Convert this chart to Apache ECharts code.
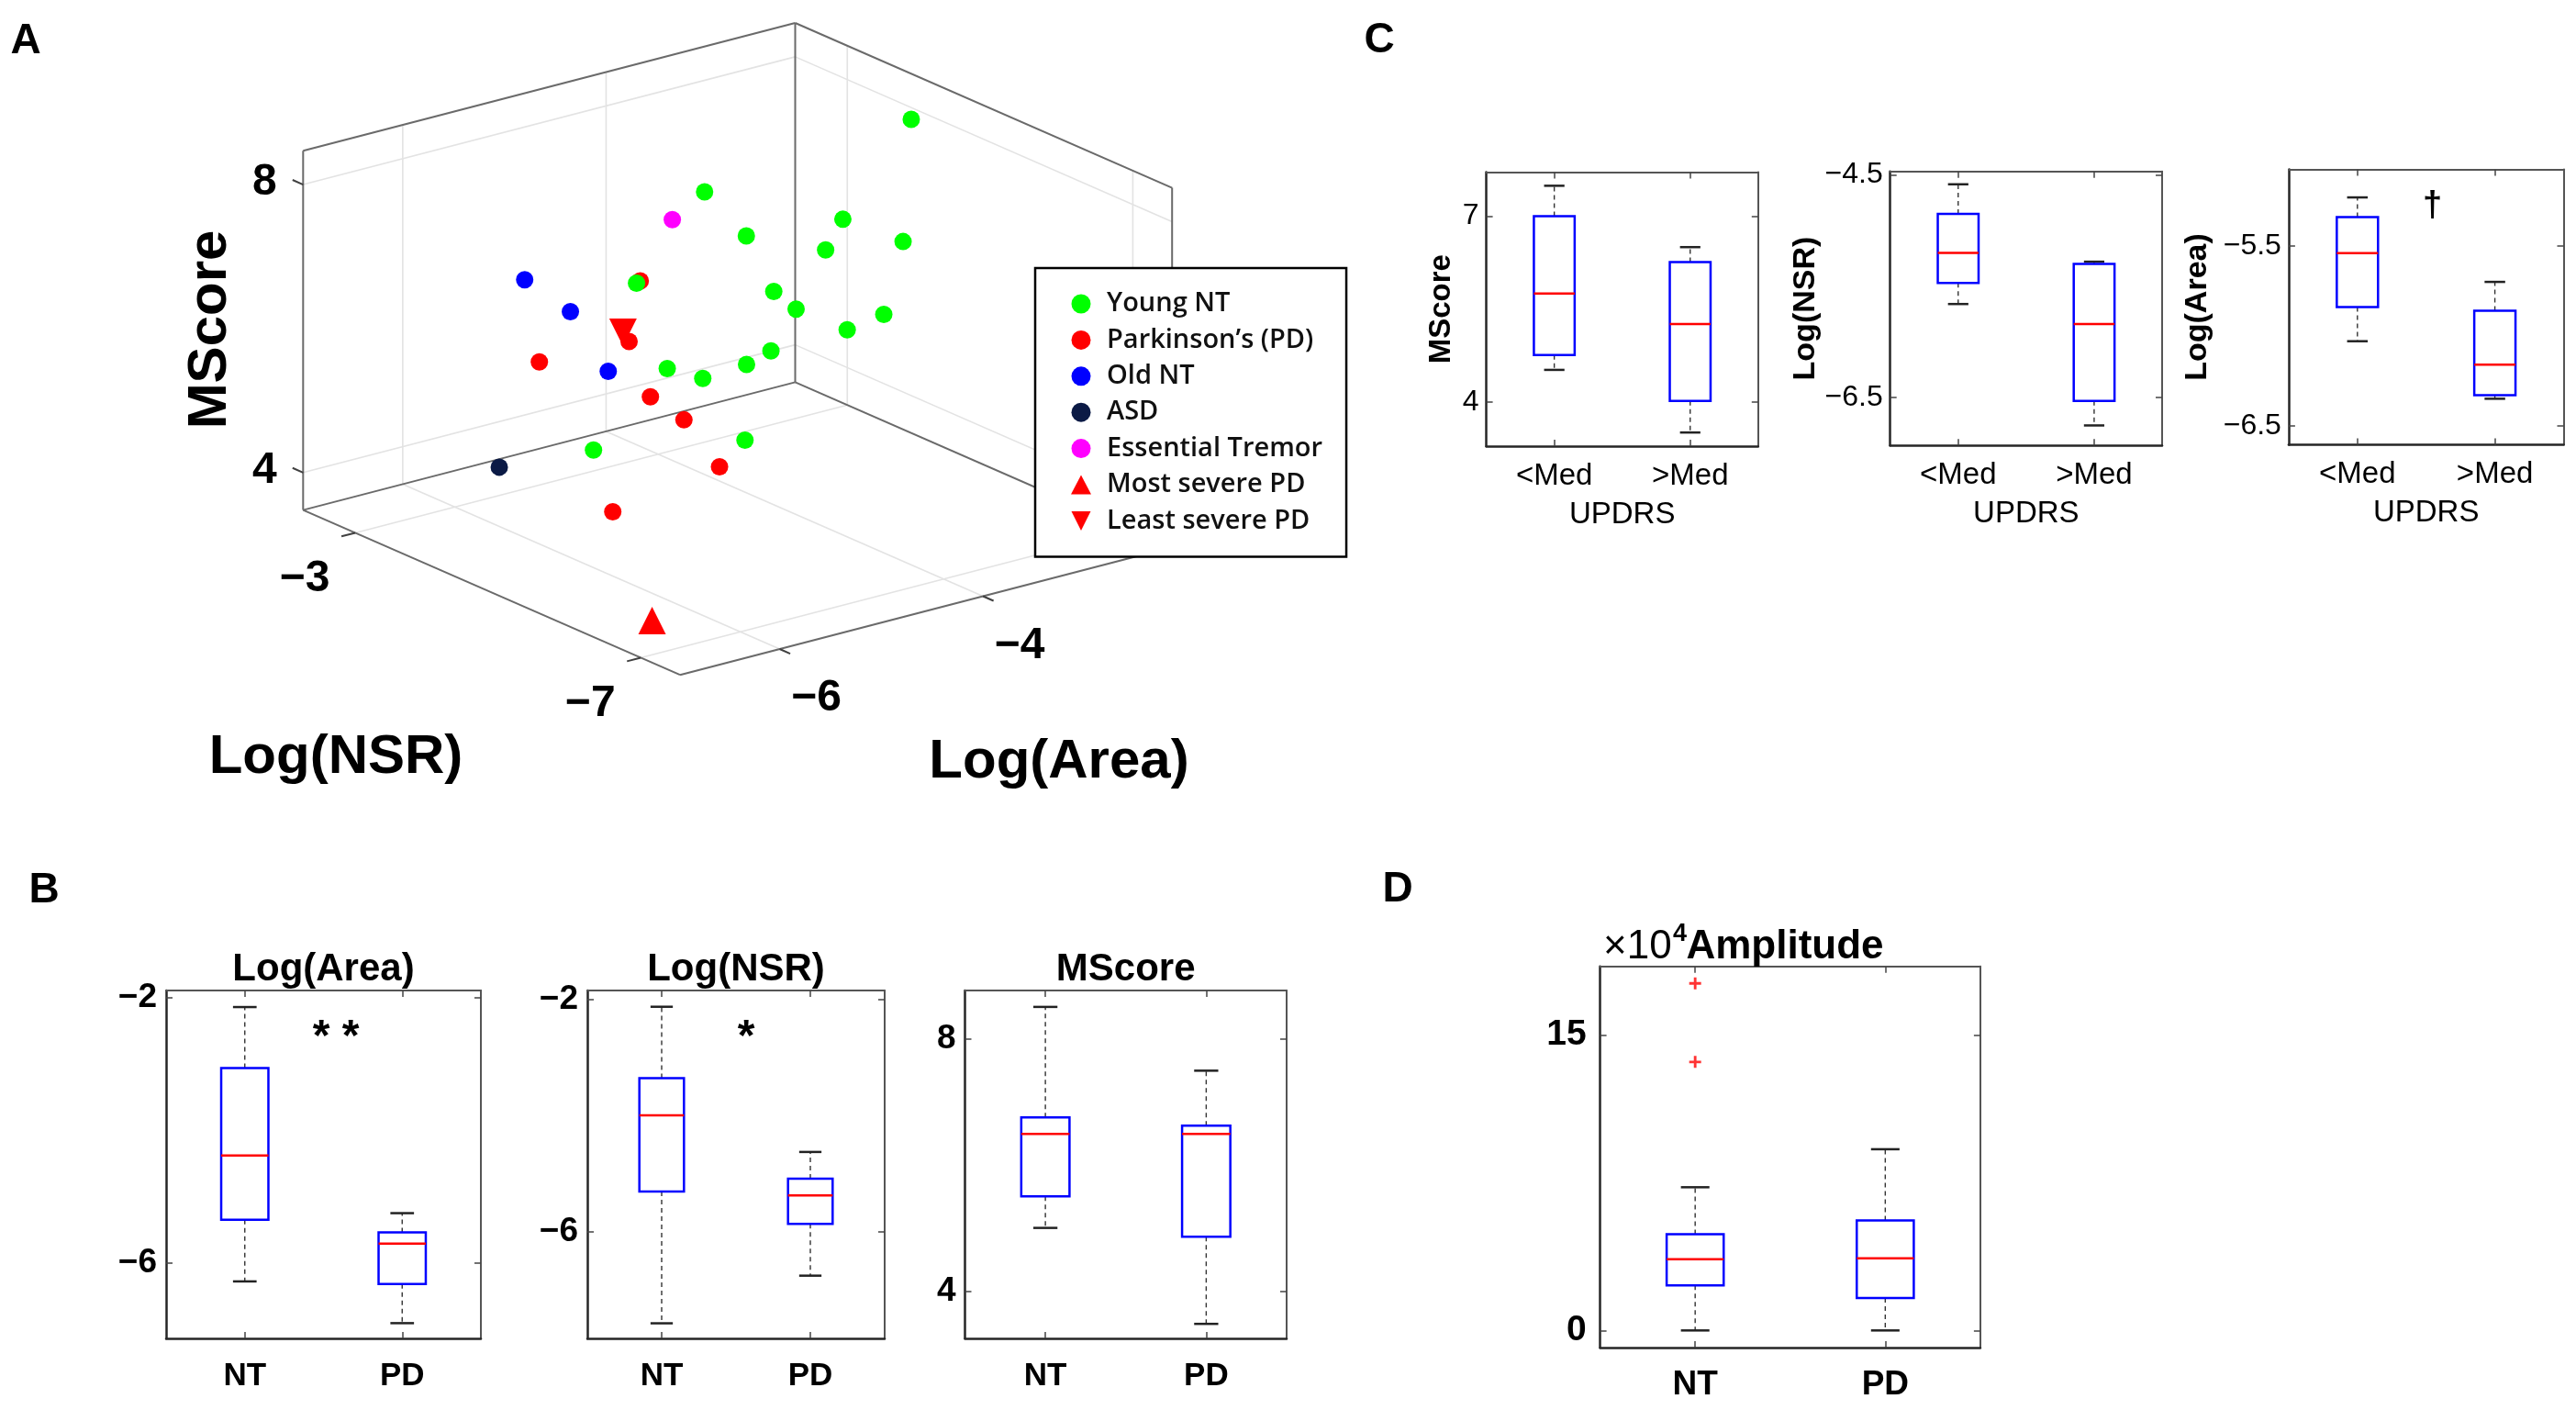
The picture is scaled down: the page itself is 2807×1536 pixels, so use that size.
<!DOCTYPE html>
<html>
<head>
<meta charset="utf-8">
<script src="https://cdn.jsdelivr.net/npm/echarts@6/dist/echarts.min.js"></script>
<style>
html,body{margin:0;padding:0;background:#fff;}
#chart{width:2807px;height:1536px;}
</style>
</head>
<body>
<div id="chart"></div>
<script>
// ================= DATA =================
// Panel A points: [Log(Area), Log(NSR), MScore]
const youngNT = [
  [-2.48,-4.38,8.17],[-4.33,-4.12,7.73],[-2.97,-4.12,6.85],[-3.73,-3.85,6.78],
  [-2.75,-4.65,6.69],[-2.95,-3.85,6.30],[-4.81,-3.85,6.52],[-3.46,-3.85,5.91],
  [-3.43,-4.12,5.77],[-2.75,-4.38,5.56],[-3.11,-4.38,5.48],[-3.86,-4.38,5.46],
  [-4.10,-4.38,5.36],[-4.88,-4.38,5.59],[-4.72,-4.65,5.51],[-4.67,-5.17,4.86],
  [-6.16,-5.17,5.27]
];
const parkinsonPD = [
  [-5.70,-5.17,7.45],[-5.81,-5.17,6.65],[-6.51,-4.91,6.51],[-5.79,-5.44,5.99],
  [-5.46,-5.44,5.55],[-5.11,-5.44,4.77],[-6.16,-5.44,4.53]
];
const oldNT = [[-5.91,-3.85,6.97],[-5.65,-4.12,6.55],[-5.65,-4.65,5.95]];
const asd = [[-6.16,-3.85,4.46]];
const essentialTremor = [[-4.83,-4.38,7.64]];
const mostSeverePD = [[-6.70,-6.76,3.79]];
const leastSeverePD = [[-5.87,-5.17,6.80]];
const aAreaTicks = [-6, -4];
const aNsrTicks = [-3, -7];
const aMsTicks = [4, 8];
const legendNames = ['Young NT','Parkinson\u2019s (PD)','Old NT','ASD','Essential Tremor','Most severe PD','Least severe PD'];

// Box statistics: [lower whisker, Q1, median, Q3, upper whisker]
const groupCats = ['NT', 'PD'];
const bAreaStats = [[-6.28,-5.35,-4.38,-3.06,-2.14], [-6.91,-6.32,-5.71,-5.54,-5.25]];
const bNsrStats  = [[-7.57,-5.30,-3.99,-3.35,-2.12], [-6.75,-5.86,-5.37,-5.08,-4.62]];
const bMsStats   = [[5.01,5.51,6.50,6.76,8.51], [3.49,4.87,6.50,6.63,7.50]];
const bAreaTicks = [-6, -2];
const bNsrTicks = [-6, -2];
const bMsTicks = [4, 8];

const updrsCats = ['<Med', '>Med'];
const cMsStats   = [[4.52,4.76,5.75,7.00,7.49], [3.51,4.02,5.26,6.26,6.50]];
const cNsrStats  = [[-5.66,-5.47,-5.20,-4.85,-4.585], [-6.75,-6.53,-5.84,-5.30,-5.28]];
const cAreaStats = [[-6.03,-5.84,-5.54,-5.34,-5.23], [-6.35,-6.33,-6.16,-5.86,-5.70]];
const cMsTicks = [4, 7];
const cNsrTicks = [-6.5, -4.5];
const cAreaTicks = [-6.5, -5.5];

// Amplitude (x10^4)
const ampStats = [[0,2.29,3.61,4.89,7.27], [0,1.65,3.66,5.58,9.20]];
const ampOutliersNT = [17.62, 13.63];
const ampTicks = [0, 15];

// ================= LAYOUT / STYLE =================
const FONT = "'Liberation Sans', Arial, Helvetica, sans-serif";
const LFONT = "'Open Sans', 'Noto Sans', sans-serif";
const minus = v => String(v).replace('-', '\u2212');

const A_BOX = {
  origin: [330.3, 555.6],
  areaVec: [536.2, -139.2],
  nsrVec: [410.7, 179.6],
  msVec: [0, -391.4],
  area: [-6.98, -2.14],
  nsr: [-2.27, -7.55],
  ms: [3.48, 8.47]
};
function project(a, n, m) {
  const b = A_BOX;
  const ua = (a - b.area[0]) / (b.area[1] - b.area[0]);
  const un = (n - b.nsr[0]) / (b.nsr[1] - b.nsr[0]);
  const um = (m - b.ms[0]) / (b.ms[1] - b.ms[0]);
  return [
    b.origin[0] + ua * b.areaVec[0] + un * b.nsrVec[0] + um * b.msVec[0],
    b.origin[1] + ua * b.areaVec[1] + un * b.nsrVec[1] + um * b.msVec[1]
  ];
}

function cubeSegments() {
  const b = A_BOX;
  const [a0, a1] = b.area, [n0, n1] = b.nsr, [m0, m1] = b.ms;
  const segs = [];
  const seg = (p, q, kind) => segs.push([...project(...p), ...project(...q), kind]);
  aMsTicks.forEach(m => { seg([a0,n0,m],[a1,n0,m],0); seg([a1,n0,m],[a1,n1,m],0); });
  aAreaTicks.forEach(a => { seg([a,n0,m0],[a,n0,m1],0); seg([a,n0,m0],[a,n1,m0],0); });
  aNsrTicks.forEach(n => { seg([a1,n,m0],[a1,n,m1],0); seg([a0,n,m0],[a1,n,m0],0); });
  seg([a0,n0,m0],[a0,n0,m1],1);
  seg([a1,n0,m0],[a1,n0,m1],1);
  seg([a1,n1,m0],[a1,n1,m1],1);
  seg([a0,n0,m0],[a1,n0,m0],1);
  seg([a1,n0,m0],[a1,n1,m0],1);
  seg([a0,n0,m0],[a0,n1,m0],1);
  seg([a0,n1,m0],[a1,n1,m0],1);
  seg([a0,n0,m1],[a1,n0,m1],1);
  seg([a1,n0,m1],[a1,n1,m1],1);
  const k = 0.028;
  aMsTicks.forEach(m => seg([a0,n0,m],[a0,n0 - k*(n1-n0),m],2));
  aNsrTicks.forEach(n => seg([a0,n,m0],[a0 - k*(a1-a0),n,m0],2));
  aAreaTicks.forEach(a => seg([a,n1,m0],[a,n1 + k*(n1-n0),m0],2));
  return segs;
}

function segRender(params, api) {
  const p = api.coord([api.value(0), api.value(1)]);
  const q = api.coord([api.value(2), api.value(3)]);
  const kind = api.value(4);
  const style = kind === 0 ? {stroke:'#e3e3e3', lineWidth:1.6}
              : kind === 1 ? {stroke:'#6a6a6a', lineWidth:2}
              : {stroke:'#404040', lineWidth:2};
  return {type:'line', shape:{x1:p[0], y1:p[1], x2:q[0], y2:q[1]}, style};
}

function boxRender(params, api) {
  const cat = api.value(0);
  const pts = [1,2,3,4,5].map(d => api.coord([cat, api.value(d)]));
  const band = api.size([1, 0])[0];
  const bw = band * 0.3, cw = bw * 0.5;
  const x = pts[2][0];
  const [yLo, yQ1, yMd, yQ3, yHi] = pts.map(p => p[1]);
  const dash = {stroke:'#333', lineWidth:1.4, lineDash:[5,4]};
  const cap = {stroke:'#222', lineWidth:2.5};
  return {type:'group', children:[
    {type:'line', shape:{x1:x, y1:yQ3, x2:x, y2:yHi}, style:dash},
    {type:'line', shape:{x1:x, y1:yQ1, x2:x, y2:yLo}, style:dash},
    {type:'line', shape:{x1:x-cw/2, y1:yHi, x2:x+cw/2, y2:yHi}, style:cap},
    {type:'line', shape:{x1:x-cw/2, y1:yLo, x2:x+cw/2, y2:yLo}, style:cap},
    {type:'rect', shape:{x:x-bw/2, y:yQ3, width:bw, height:yQ1-yQ3}, style:{fill:'none', stroke:'#0000ff', lineWidth:2.5}},
    {type:'line', shape:{x1:x-bw/2, y1:yMd, x2:x+bw/2, y2:yMd}, style:{stroke:'#ff0000', lineWidth:2.5}}
  ]};
}

const option = {
  animation: false,
  backgroundColor: '#ffffff',
  textStyle: {fontFamily: FONT},
  grid: [], xAxis: [], yAxis: [], series: [], graphic: []
};

// ---------- Panel A (projected 3D) ----------
option.grid.push({left:0, top:0, width:2807, height:1536, containLabel:false, outerBoundsMode:'none', show:false});
option.xAxis.push({gridIndex:0, type:'value', min:0, max:2807, show:false});
option.yAxis.push({gridIndex:0, type:'value', min:0, max:1536, inverse:true, show:false});
option.series.push({type:'custom', name:'cube', xAxisIndex:0, yAxisIndex:0, data:cubeSegments(), renderItem:segRender, silent:true, z:1});

function scatter3D(name, pts, color, symbol, size) {
  option.series.push({
    type:'scatter', name, xAxisIndex:0, yAxisIndex:0,
    data: pts.map(p => project(p[0], p[1], p[2])),
    symbol, symbolSize:size,
    itemStyle:{color, borderWidth:0, opacity:1}, silent:true, z:2
  });
}
scatter3D(legendNames[1], parkinsonPD, '#ff0000', 'circle', 19);
scatter3D(legendNames[2], oldNT, '#0000ff', 'circle', 19);
scatter3D(legendNames[3], asd, '#0b1a45', 'circle', 19);
scatter3D(legendNames[4], essentialTremor, '#ff00ff', 'circle', 19);
scatter3D(legendNames[0], youngNT, '#00ff00', 'circle', 19);
scatter3D(legendNames[5], mostSeverePD, '#ff0000', 'triangle', 30);
scatter3D(legendNames[6], leastSeverePD, '#ff0000', 'path://M0,0L10,0L5,10Z', 30);

option.legend = {
  data: legendNames, orient:'vertical', left:1128, top:292, align:'left',
  selectedMode:false, itemWidth:22, itemHeight:21, itemGap:9.4,
  backgroundColor:'#fff', borderColor:'#000', borderWidth:2.5, borderRadius:0,
  padding:[24, 26, 24, 39],
  itemStyle:{borderWidth:0},
  textStyle:{fontFamily:LFONT, fontSize:29, fontWeight:600, color:'#111', lineHeight:30, padding:[0,0,0,12]}
};

const txt = (text, x, y, size, weight, align, extra) => Object.assign({
  type:'text', x, y, silent:true, z:10,
  style:{text, fill:'#000', font: (weight||'normal') + ' ' + size + 'px ' + FONT,
         textAlign: align||'center', textVerticalAlign:'middle', align: align||'center', verticalAlign:'middle'}
}, extra || {});

// Panel A tick labels and axis names
aMsTicks.forEach(m => { const p = project(A_BOX.area[0], A_BOX.nsr[0], m); option.graphic.push(txt(minus(m), p[0]-42, p[1]-2, 48, 'bold')); });
aNsrTicks.forEach(n => { const p = project(A_BOX.area[0], n, A_BOX.ms[0]); option.graphic.push(txt(minus(n), p[0]-55, p[1]+50, 48, 'bold')); });
aAreaTicks.forEach(a => { const p = project(a, A_BOX.nsr[1], A_BOX.ms[0]); option.graphic.push(txt(minus(a), p[0]+40, p[1]+54, 48, 'bold')); });
option.graphic.push(txt('MScore', 229, 359, 60, 'bold', 'center', {rotation: Math.PI/2}));
option.graphic.push(txt('Log(NSR)', 366, 825, 60, 'bold'));
option.graphic.push(txt('Log(Area)', 1154, 830, 60, 'bold'));

// Panel letters
option.graphic.push(txt('A', 28, 45, 46, 'bold'));
option.graphic.push(txt('B', 48, 970, 46, 'bold'));
option.graphic.push(txt('C', 1503, 44, 46, 'bold'));
option.graphic.push(txt('D', 1523, 969, 46, 'bold'));

// ---------- Box plot panels ----------
function addBoxPanel(p) {
  const gi = option.grid.length;
  option.grid.push({left:p.rect[0], top:p.rect[1], width:p.rect[2], height:p.rect[3], containLabel:false, outerBoundsMode:'none', show:false});
  const xi = option.xAxis.length;
  const tickStyle = {color:'#444', width:1.5};
  option.xAxis.push({
    gridIndex:gi, type:'category', data:p.cats, position:'bottom', boundaryGap:true,
    axisLine:{show:true, onZero:false, lineStyle:{color:'#262626', width:2.5}},
    axisTick:{show:true, inside:true, alignWithLabel:true, length:7, lineStyle:tickStyle},
    axisLabel:{show:true, margin:p.xMargin, color:'#000', fontFamily:FONT, fontSize:p.xFont, fontWeight:p.xWeight},
    name:p.xName || '', nameLocation:'middle', nameGap:p.xNameGap || 0,
    nameTextStyle:{color:'#000', fontFamily:FONT, fontSize:33, fontWeight:'normal'},
    splitLine:{show:false}
  });
  option.xAxis.push({
    gridIndex:gi, type:'category', data:p.cats, position:'top', boundaryGap:true,
    axisLine:{show:true, onZero:false, lineStyle:{color:'#555', width:2}},
    axisTick:{show:true, inside:true, alignWithLabel:true, length:7, lineStyle:tickStyle},
    axisLabel:{show:false}, splitLine:{show:false}
  });
  const yi = option.yAxis.length;
  option.yAxis.push({
    gridIndex:gi, type:'value', min:p.range[0], max:p.range[1], position:'left',
    axisLine:{show:true, onZero:false, lineStyle:{color:'#262626', width:2.5}},
    axisTick:{show:true, inside:true, length:7, customValues:p.ticks, lineStyle:tickStyle},
    axisLabel:{show:true, customValues:p.ticks, formatter:minus, margin:p.yMargin, color:'#000', fontFamily:FONT, fontSize:p.yFont, fontWeight:p.yWeight},
    name:p.yName || '', nameLocation:'middle', nameGap:p.yNameGap || 0, nameRotate:90,
    nameTextStyle:{color:'#000', fontFamily:FONT, fontSize:p.yNameFont || 32, fontWeight:'bold'},
    splitLine:{show:false}
  });
  option.yAxis.push({
    gridIndex:gi, type:'value', min:p.range[0], max:p.range[1], position:'right',
    axisLine:{show:true, onZero:false, lineStyle:{color:'#555', width:2}},
    axisTick:{show:true, inside:true, length:7, customValues:p.ticks, lineStyle:tickStyle},
    axisLabel:{show:false}, splitLine:{show:false}
  });
  option.series.push({type:'custom', xAxisIndex:xi, yAxisIndex:yi, data:p.stats.map((s,i)=>[i, ...s]), renderItem:boxRender, silent:true, z:3});
  if (p.outliers) {
    option.series.push({type:'scatter', xAxisIndex:xi, yAxisIndex:yi, data:p.outliers.map(v=>[0, v]),
      symbol:'path://M3.9,0H6.1V3.9H10V6.1H6.1V10H3.9V6.1H0V3.9H3.9Z', symbolSize:13,
      itemStyle:{color:'#ff0000', borderWidth:0}, silent:true, z:4});
  }
}

const bStyle = {cats:groupCats, xMargin:24, xFont:35, xWeight:'bold', yMargin:10, yFont:37, yWeight:'bold'};
addBoxPanel(Object.assign({rect:[181,1079,343,379], stats:bAreaStats, range:[-7.14,-1.89], ticks:bAreaTicks}, bStyle));
addBoxPanel(Object.assign({rect:[640,1079,324,379], stats:bNsrStats, range:[-7.83,-1.84], ticks:bNsrTicks}, bStyle));
addBoxPanel(Object.assign({rect:[1051.5,1079,350.5,379], stats:bMsStats, range:[3.26,8.77], ticks:bMsTicks}, bStyle));

addBoxPanel({rect:[1743.6,1052.8,414.3,415.2], cats:groupCats, stats:ampStats, range:[-0.87,18.48], ticks:ampTicks,
  outliers:ampOutliersNT, xMargin:22, xFont:37, xWeight:'bold', yMargin:15, yFont:39, yWeight:'bold'});

const cStyle = {cats:updrsCats, xMargin:16, xFont:33, xWeight:'normal', yMargin:8, yFont:32, yWeight:'normal', xName:'UPDRS', xNameGap:58};
addBoxPanel(Object.assign({rect:[1619.6,187.5,296.2,298.5], stats:cMsStats, range:[3.29,7.71], ticks:cMsTicks, yName:'MScore', yNameGap:32, yNameFont:33}, cStyle));
addBoxPanel(Object.assign({rect:[2059.7,186.8,296.3,298.5], stats:cNsrStats, range:[-6.93,-4.47], ticks:cNsrTicks, yName:'Log(NSR)', yNameGap:71, yNameFont:34}, cStyle));
addBoxPanel(Object.assign({rect:[2493.9,184.5,299.6,300], stats:cAreaStats, range:[-6.606,-5.074], ticks:cAreaTicks, yName:'Log(Area)', yNameGap:82, yNameFont:34}, cStyle));

// Titles and significance marks
option.graphic.push(txt('Log(Area)', 352.5, 1056, 42, 'bold'));
option.graphic.push(txt('Log(NSR)', 802, 1056, 42, 'bold'));
option.graphic.push(txt('MScore', 1226.7, 1056, 42, 'bold'));
option.graphic.push(txt('* *', 366, 1131, 48, 'bold'));
option.graphic.push(txt('*', 813, 1131, 48, 'bold'));
option.graphic.push(txt('\u2020', 2650.5, 224.5, 38, 'bold'));
option.graphic.push(txt('\u00d710', 1747, 1032, 44, 'normal', 'left'));
option.graphic.push(txt('4', 1823, 1018, 27, 'bold', 'left'));
option.graphic.push(txt('Amplitude', 1945, 1032, 44, 'bold'));

const chart = echarts.init(document.getElementById('chart'), null, {renderer:'canvas', width:2807, height:1536});
chart.setOption(option);
</script>
</body>
</html>
